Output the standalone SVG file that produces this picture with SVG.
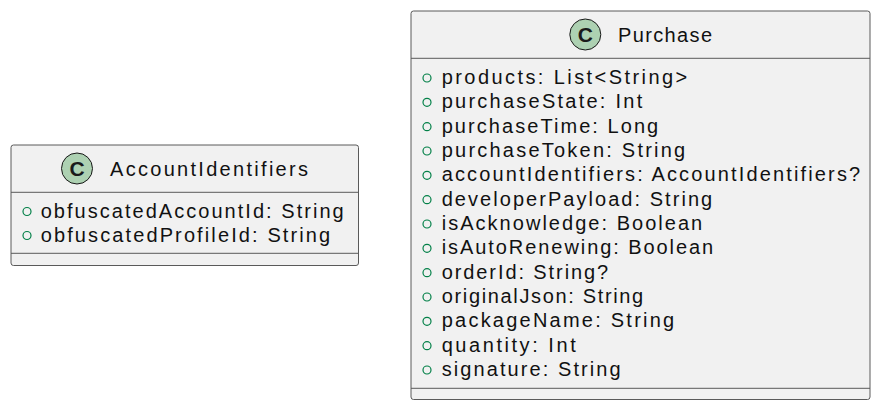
<svg xmlns="http://www.w3.org/2000/svg" width="881" height="410" viewBox="0 0 881 410">
<style>
.box{fill:#F1F1F1;stroke:#5a5a5a;stroke-width:1}
.sep{stroke:#5a5a5a;stroke-width:1}
.ic{fill:#ADD1B2;stroke:#181818;stroke-width:1}
.icl{font-family:"Liberation Sans",Arial,sans-serif;font-weight:bold;font-size:21px;fill:#1a1a1a;text-anchor:middle}
.t{font-family:"Liberation Sans",Arial,sans-serif;font-size:20px;fill:#111}
.m{fill:none;stroke:#038048;stroke-width:1.2}
</style>
<rect width="881" height="410" fill="#FFFFFF"/>
<g id="AccountIdentifiers">
<rect class="box" x="11" y="145" width="347.5" height="120.5" rx="2.5"/>
<line class="sep" x1="11" y1="192.3" x2="358.5" y2="192.3"/>
<line class="sep" x1="11" y1="253.3" x2="358.5" y2="253.3"/>
<circle class="ic" cx="77" cy="168.5" r="15.5"/>
<text class="icl" x="77" y="176">C</text>
<text class="t" x="110" y="176" textLength="198" lengthAdjust="spacing">AccountIdentifiers</text>
<circle class="m" cx="27" cy="211.5" r="4"/>
<text class="t" x="40.7" y="217.7" textLength="303" lengthAdjust="spacing">obfuscatedAccountId: String</text>
<circle class="m" cx="27" cy="235.5" r="4"/>
<text class="t" x="40.7" y="241.7" textLength="289.5" lengthAdjust="spacing">obfuscatedProfileId: String</text>
</g>
<g id="Purchase">
<rect class="box" x="411" y="11" width="459" height="388.5" rx="2.5"/>
<line class="sep" x1="411" y1="58.3" x2="870" y2="58.3"/>
<line class="sep" x1="411" y1="388.3" x2="870" y2="388.3"/>
<circle class="ic" cx="585.3" cy="34.5" r="15.5"/>
<text class="icl" x="585.3" y="42">C</text>
<text class="t" x="618" y="42" textLength="94" lengthAdjust="spacing">Purchase</text>
<circle class="m" cx="427" cy="78" r="4"/>
<text class="t" x="441.7" y="84" textLength="245.5" lengthAdjust="spacing">products: List&lt;String&gt;</text>
<circle class="m" cx="427" cy="102.3" r="4"/>
<text class="t" x="441.7" y="108.3" textLength="200.5" lengthAdjust="spacing">purchaseState: Int</text>
<circle class="m" cx="427" cy="126.7" r="4"/>
<text class="t" x="441.7" y="132.7" textLength="216.5" lengthAdjust="spacing">purchaseTime: Long</text>
<circle class="m" cx="427" cy="151" r="4"/>
<text class="t" x="441.7" y="157" textLength="243.5" lengthAdjust="spacing">purchaseToken: String</text>
<circle class="m" cx="427" cy="175.3" r="4"/>
<text class="t" x="441.7" y="181.3" textLength="418.5" lengthAdjust="spacing">accountIdentifiers: AccountIdentifiers?</text>
<circle class="m" cx="427" cy="199.7" r="4"/>
<text class="t" x="441.7" y="205.7" textLength="270.5" lengthAdjust="spacing">developerPayload: String</text>
<circle class="m" cx="427" cy="224" r="4"/>
<text class="t" x="441.7" y="230" textLength="260.5" lengthAdjust="spacing">isAcknowledge: Boolean</text>
<circle class="m" cx="427" cy="248.3" r="4"/>
<text class="t" x="441.7" y="254.3" textLength="271.5" lengthAdjust="spacing">isAutoRenewing: Boolean</text>
<circle class="m" cx="427" cy="272.7" r="4"/>
<text class="t" x="441.7" y="278.7" textLength="166.5" lengthAdjust="spacing">orderId: String?</text>
<circle class="m" cx="427" cy="297" r="4"/>
<text class="t" x="441.7" y="303" textLength="201.5" lengthAdjust="spacing">originalJson: String</text>
<circle class="m" cx="427" cy="321.3" r="4"/>
<text class="t" x="441.7" y="327.3" textLength="232.5" lengthAdjust="spacing">packageName: String</text>
<circle class="m" cx="427" cy="345.7" r="4"/>
<text class="t" x="441.7" y="351.7" textLength="134" lengthAdjust="spacing">quantity: Int</text>
<circle class="m" cx="427" cy="370" r="4"/>
<text class="t" x="441.7" y="376" textLength="179" lengthAdjust="spacing">signature: String</text>
</g>
<g id="connectors"/>
</svg>
